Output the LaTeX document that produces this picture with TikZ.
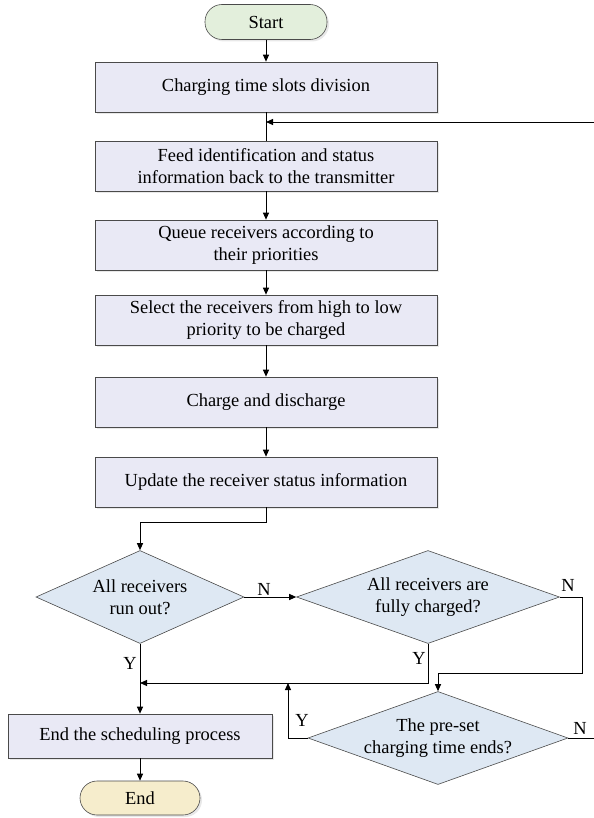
\documentclass[tikz,border=0pt]{standalone}
\usepackage{fontspec}
\setmainfont{Liberation Serif}
\usetikzlibrary{shapes.geometric,arrows.meta,shadows}
\definecolor{boxfill}{HTML}{E9E9F5}
\definecolor{decfill}{HTML}{DEE8F3}
\definecolor{startfill}{HTML}{E3EFDC}
\definecolor{endfill}{HTML}{F6EDCC}
\definecolor{edge}{HTML}{4A4A4A}
\begin{document}
\begin{tikzpicture}[x=1bp,y=-1bp,
  txt/.style={font=\fontsize{18.5}{22}\selectfont, align=center},
  shad/.style={drop shadow={shadow xshift=2bp, shadow yshift=-2bp, opacity=0.18, fill=black!50}},
  proc/.style={txt, draw=edge, line width=0.6pt, fill=boxfill, minimum width=342bp, minimum height=50bp, inner sep=2pt, shad},
  term/.style={txt, draw=edge, line width=0.6pt, rounded corners=17bp, minimum width=122bp, minimum height=35bp, inner sep=1pt, shad},
  dec/.style={txt, diamond, draw=edge, line width=0.6pt, fill=decfill, inner sep=0pt},
  arr/.style={-{Triangle[length=7bp,width=6bp]}, line width=1pt, black},
  ln/.style={line width=1pt, black},
  lab/.style={font=\fontsize{18.5}{20}\selectfont, inner sep=1pt}
]
\useasboundingbox (0,0) rectangle (594,818);

\node[term, fill=startfill] (start) at (266,22) {Start};
\node[proc] (b1) at (266,87) {Charging time slots division};
\node[proc] (b2) at (266,166) {Feed identification and status\\information back to the transmitter};
\node[proc] (b3) at (266,245) {Queue receivers according to\\their priorities};
\node[proc] (b4) at (266,320) {Select the receivers from high to low\\priority to be charged};
\node[proc] (b5) at (266,402) {Charge and discharge};
\node[proc] (b6) at (266,482) {Update the receiver status information};

\node[dec, aspect=2.24, minimum width=208bp, minimum height=93bp] (d1) at (140,597) {All receivers\\run out?};
\node[dec, aspect=2.83, minimum width=263bp, minimum height=93bp] (d2) at (428,597) {All receivers are\\fully charged?};
\node[dec, aspect=2.8, minimum width=260bp, minimum height=93bp] (d3) at (438,738) {The pre-set\\charging time ends?};

\node[proc, minimum width=264bp, minimum height=44bp] (b7) at (140,736) {End the scheduling process};
\node[term, fill=endfill, minimum width=120bp, minimum height=34bp] (end) at (140,798) {End};

\coordinate (r1) at (594,122);
\coordinate (k1) at (582,673);
\coordinate (j1) at (140,683);
\coordinate (j2) at (288,683);
\coordinate (r2) at (594,738);

\draw[arr] (start) -- (b1);
\draw[ln] (b1) -- (b2);
\draw[arr] (r1) -- (b1.south |- r1);
\draw[arr] (b2) -- (b3);
\draw[arr] (b3) -- (b4);
\draw[arr] (b4) -- (b5);
\draw[arr] (b5) -- (b6);
\draw[arr] (b6.south) -- ++(0,15) -| (d1.north);
\draw[arr] (d1.east) -- (d2.west) node[lab, pos=0.38, above] {N};
\draw[arr] (d2.east) -| (k1) -| (d3.north);
\node[lab] at (568,585) {N};
\draw[arr] (d2.south) |- (j1);
\node[lab] at (419,658) {Y};
\draw[arr] (d1.south) -- (b7.north);
\node[lab] at (130,663) {Y};
\draw[arr] (d3.west) -| (j2);
\node[lab] at (302,720) {Y};
\draw[ln] (d3.east) -- (r2);
\node[lab] at (580,728) {N};
\draw[arr] (b7) -- (end);
\end{tikzpicture}
\end{document}
